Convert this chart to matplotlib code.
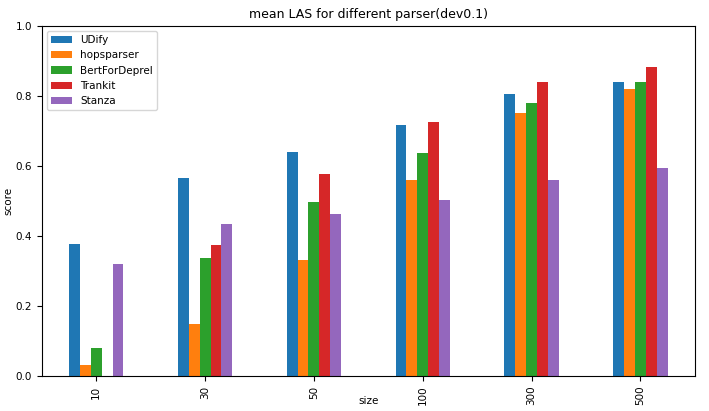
import numpy as np
import matplotlib
matplotlib.use("Agg")
import matplotlib.pyplot as plt

sizes = ["10", "30", "50", "100", "300", "500"]
parsers = ["UDify", "hopsparser", "BertForDeprel", "Trankit", "Stanza"]

udify = [0.378, 0.567, 0.640, 0.717, 0.806, 0.839]
hopsparser = [0.032, 0.150, 0.332, 0.560, 0.751, 0.821]
bertfordeprel = [0.080, 0.337, 0.497, 0.638, 0.779, 0.839]
trankit = [np.nan, 0.375, 0.577, 0.725, 0.839, 0.882]
stanza = [0.320, 0.433, 0.462, 0.502, 0.559, 0.595]

series = [udify, hopsparser, bertfordeprel, trankit, stanza]
colors = ["#1f77b4", "#ff7f0e", "#2ca02c", "#d62728", "#9467bd"]

plt.rcParams["font.size"] = 7.5

fig, ax = plt.subplots(figsize=(7.09, 4.11), dpi=100)
fig.subplots_adjust(left=0.059, right=0.980, top=0.937, bottom=0.085)

x = np.arange(len(sizes))
width = 0.5 / len(series)
for i, (name, vals) in enumerate(zip(parsers, series)):
    offset = -0.25 + width * (i + 0.5)
    ax.bar(x + offset, vals, width, color=colors[i], label=name)

ax.set_xlim(-0.5, len(sizes) - 0.5)
ax.set_ylim(0, 1.0)
ax.set_xticks(x)
ax.set_xticklabels(sizes, rotation=90)
ax.set_xlabel("size")
ax.set_ylabel("score")
ax.xaxis.set_label_coords(0.5, -0.058)
ax.yaxis.set_label_coords(-0.043, 0.5)
ax.set_title("mean LAS for different parser(dev0.1)", fontsize=9)
ax.legend(loc="upper left")

fig.savefig("out.png", dpi=100)
